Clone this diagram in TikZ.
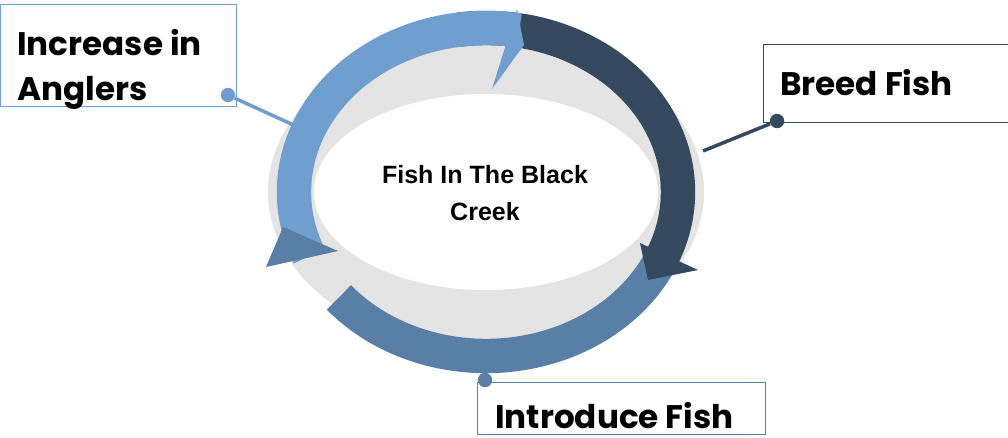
\documentclass[tikz,border=0pt]{standalone}
\usepackage{fontspec}
\setmainfont{Liberation Sans}
\newfontfamily\boxfont{Poppins}
\usepackage{xcolor}

\definecolor{anglerblue}{RGB}{112,159,207}
\definecolor{breednavy}{RGB}{52,73,94}
\definecolor{introsteel}{RGB}{90,127,166}
\definecolor{ringgrey}{RGB}{228,228,228}

\begin{document}
\begin{tikzpicture}[x=0.025cm,y=0.025cm,
		cyclearc/.style={draw=#1,line width=0.86cm},
		stagebox/.style={draw=#1,fill=white,line width=1pt,inner sep=0pt,anchor=south west},
		stagetext/.style={font=\boxfont\bfseries\fontsize{23.2}{32}\selectfont,align=left,inner sep=0pt,anchor=north west},
		leaddot/.style={circle,fill=#1,inner sep=0pt,minimum size=0.36cm},
		leadline/.style={draw=#1,line width=2.5pt}]
	\useasboundingbox (0,0) rectangle (1008,437);
	
	% grey disc and white centre
	\coordinate (ringc) at (486,245);
	\fill [ringgrey] (ringc) ellipse [x radius=218,y radius=158];
	\fill [white] (ringc) ellipse [x radius=172,y radius=98];
	\node [font=\bfseries\fontsize{17.8}{26.3}\selectfont,align=center] (creek) at (485,244) {Fish In The Black\\Creek};
	
	% the three arcs of the cycle, heads drawn as triangles
	\draw [cyclearc=introsteel] ([shift={(-25:192 and 164)}]ringc) arc [start angle=-25,end angle=-140,x radius=192,y radius=164];
	\draw [cyclearc=breednavy] ([shift={(98:192 and 164)}]ringc) arc [start angle=98,end angle=-23,x radius=192,y radius=164];
	\fill [breednavy] (640,194) -- (698,167) -- (648,157) -- cycle;
	\draw [cyclearc=anglerblue] ([shift={(203:192 and 164)}]ringc) arc [start angle=203,end angle=80,x radius=192,y radius=164];
	\fill [anglerblue] (517,428) -- (524,392) -- (492,348) -- cycle;
	\fill [introsteel] (266,170) -- (338,186) -- (283,210) -- cycle;
	
	% Increase in Anglers
	\node [stagebox=anglerblue,minimum width=5.9cm,minimum height=2.55cm] (anglerbox) at (0,330) {};
	\node [stagetext] (anglertext) at (17,408) {Increase in\\Anglers};
	\coordinate (anglerend) at (300,309);
	\node [leaddot=anglerblue] (anglerdot) at (228,342) {};
	\draw [leadline=anglerblue] (anglerdot) -- (anglerend);
	
	% Breed Fish
	\node [stagebox=breednavy,minimum width=6.3cm,minimum height=1.95cm] (breedbox) at (763,314) {};
	\node [stagetext] (breedtext) at (780,368) {Breed Fish};
	\coordinate (breedend) at (703,286);
	\node [leaddot=breednavy] (breeddot) at (777,316) {};
	\draw [leadline=breednavy] (breeddot) -- (breedend);
	
	% Introduce Fish
	\node [stagebox=introsteel,minimum width=7.2cm,minimum height=1.3cm] (introbox) at (477,2) {};
	\node [stagetext,text depth=0pt] (introtext) at (495,35) {Introduce Fish};
	\node [leaddot=introsteel] (introdot) at (485,57) {};
\end{tikzpicture}
\end{document}
